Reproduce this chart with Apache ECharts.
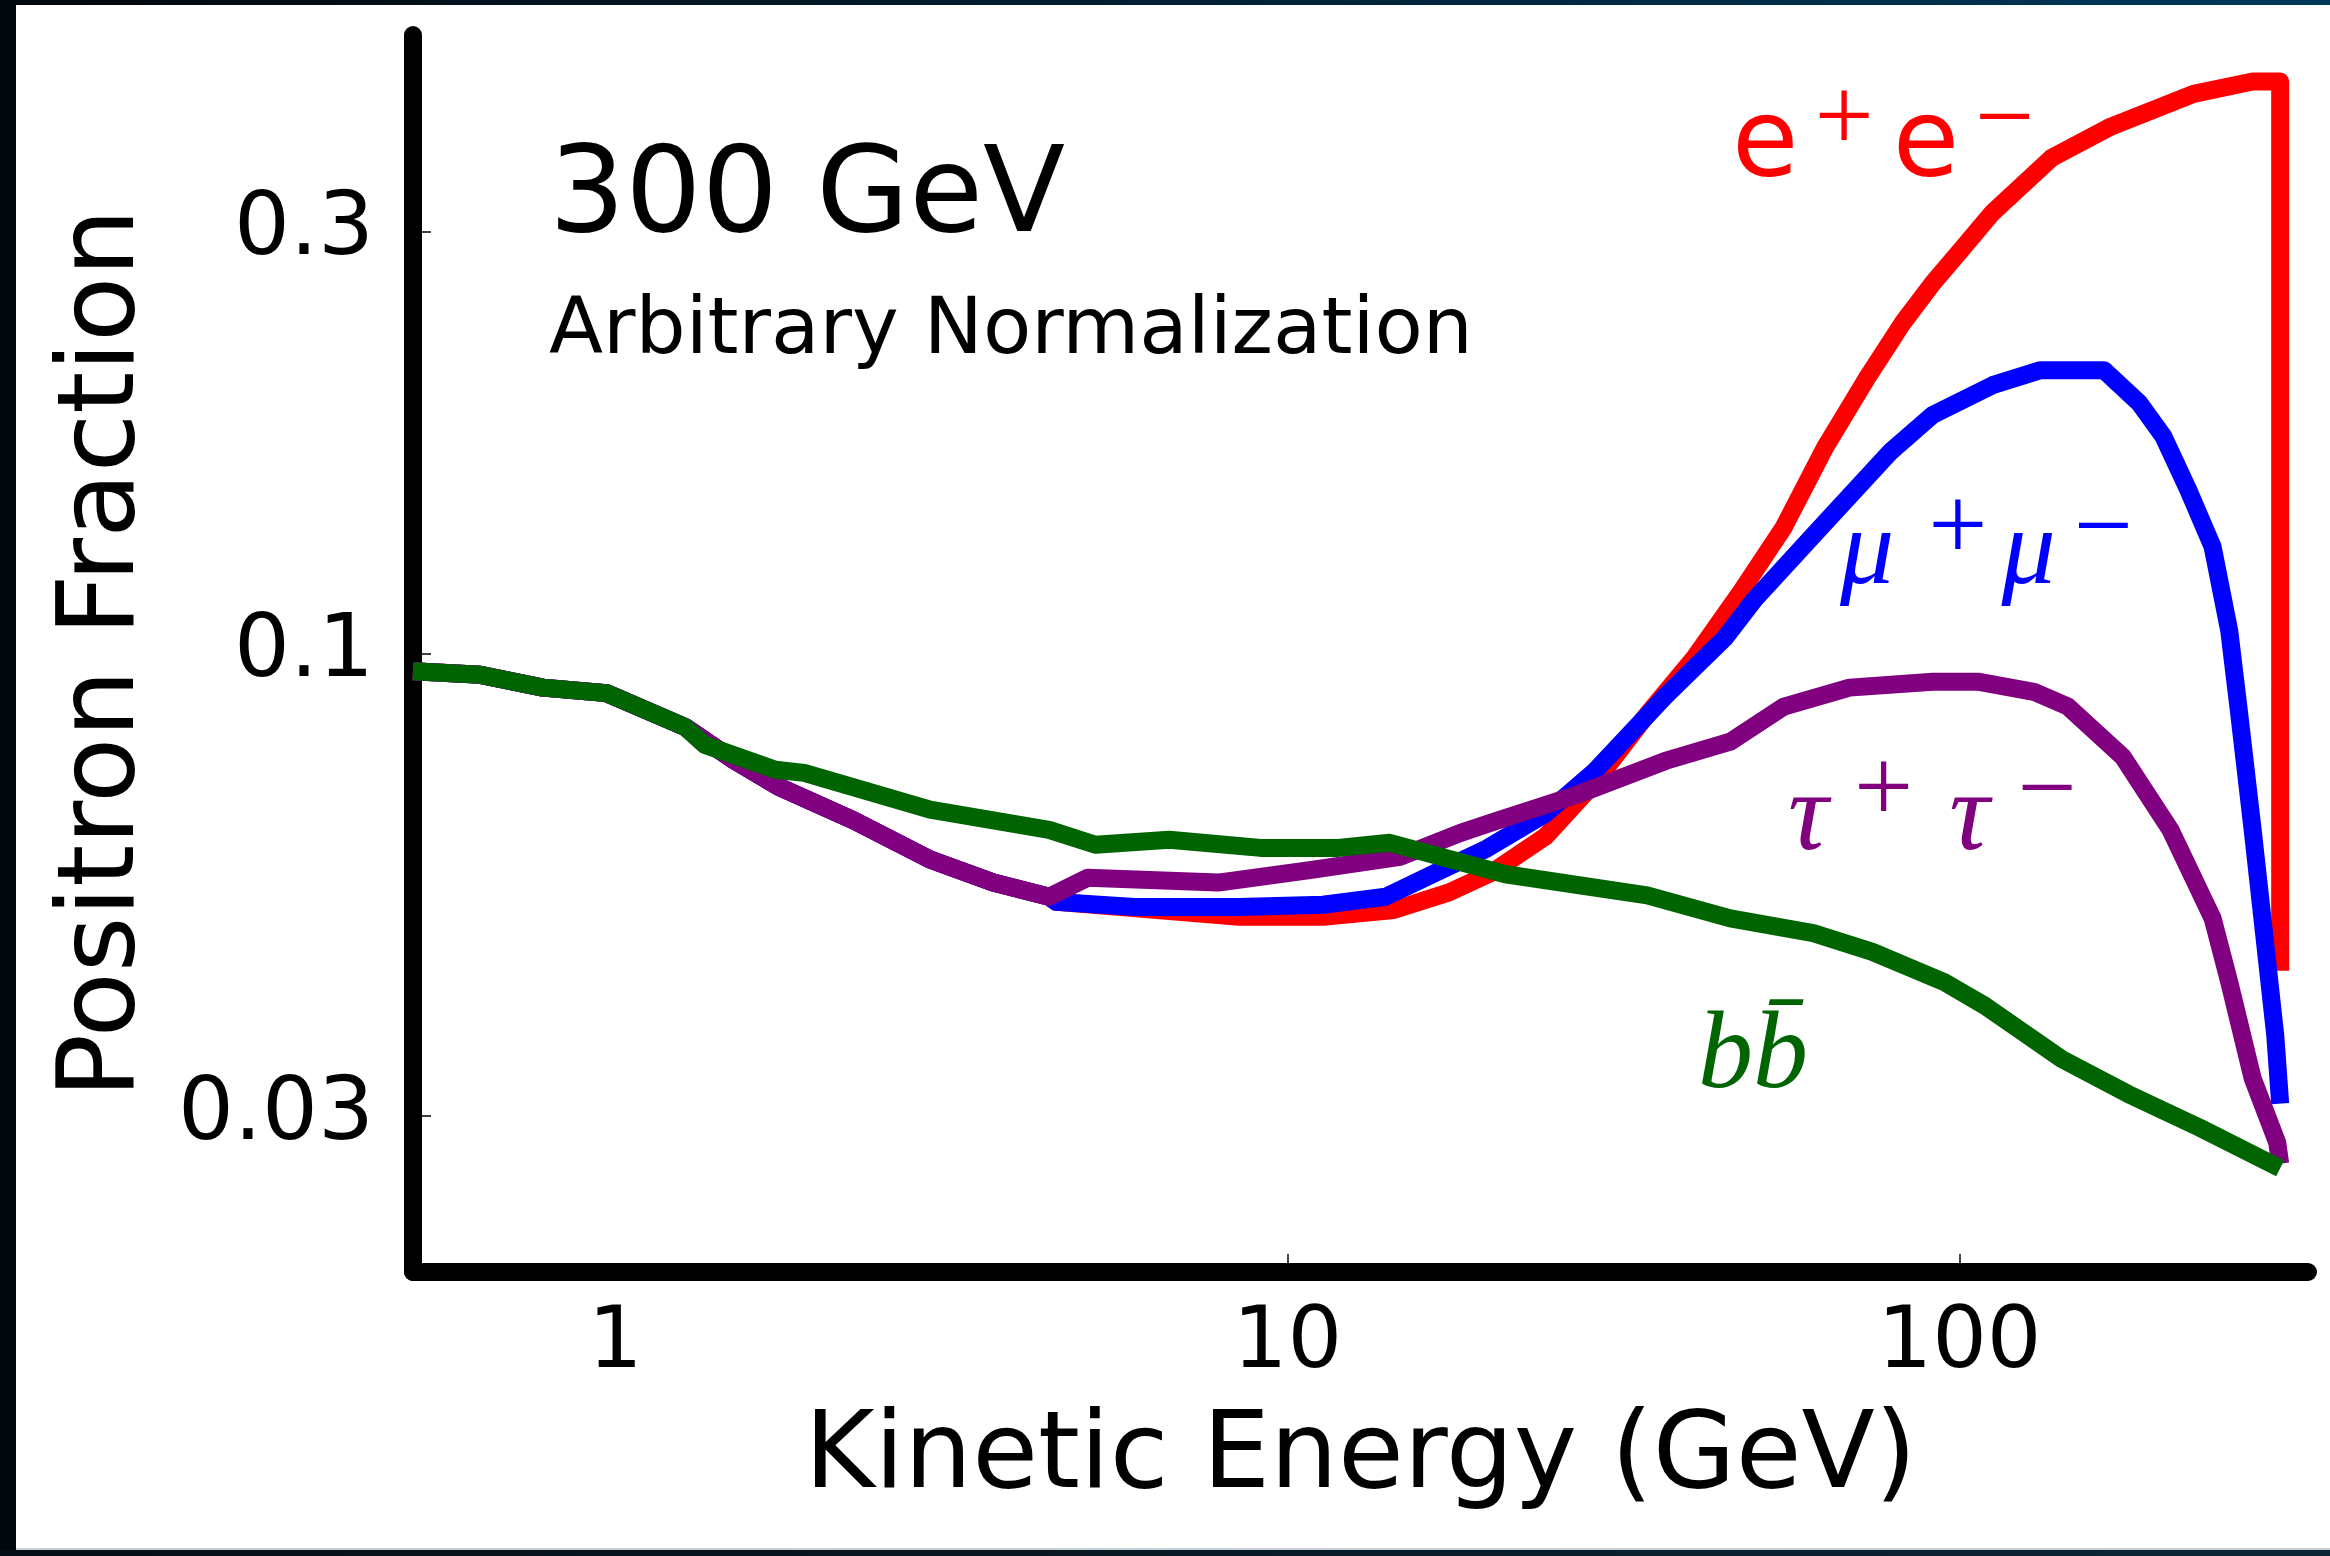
<!DOCTYPE html>
<html>
<head>
<meta charset="utf-8">
<script src="https://cdn.jsdelivr.net/npm/echarts@6/dist/echarts.min.js"></script>
<style>
html,body{margin:0;padding:0;background:#ffffff;}
#c{width:2330px;height:1556px;}
</style>
</head>
<body>
<div id="c"></div>
<script>
// ---- axes ----
const xMin = 0.5, xMax = 330;
const yMin = 0.02, yMax = 0.5;
const xLabelValues = [1, 10, 100];
const xTickValues = [10, 100];
const yTicks = [0.03, 0.1, 0.3];
const xName = 'Kinetic Energy (GeV)';
const yName = 'Positron Fraction';
const titleText = '300 GeV';
const subtitleText = 'Arbitrary Normalization';

// ---- e+e- (red) ----
const eeE = [0.5,0.63,0.78,0.97,1.27,1.5,1.75,2.26,2.94,3.65,4.42,4.53,5.83,8.48,11.3,14.4,17.4,20.1,24.2,28.6,34.3,40.4,47.5,54.8,63.1,72.9,82.2,91.2,101,112,137,168,223,273,300,300];
const eeF = [0.0955,0.0946,0.0915,0.0902,0.0826,0.0758,0.0707,0.0648,0.0585,0.0551,0.0531,0.0524,0.0516,0.0504,0.0504,0.0513,0.0537,0.0565,0.0621,0.0713,0.0853,0.0991,0.118,0.139,0.171,0.205,0.236,0.262,0.287,0.315,0.363,0.394,0.429,0.443,0.443,0.0438];

// ---- mu+mu- (blue) ----
const muE = [0.5,0.63,0.78,0.97,1.27,1.5,1.75,2.26,2.94,3.65,4.42,4.53,5.92,8.48,11.3,14.0,16.6,19.8,24.2,28.6,36.5,44.7,49.5,60.6,78.9,91.2,112,132,164,185,201,219,238,252,260,273,285,295,300];
const muF = [0.0955,0.0946,0.0915,0.0902,0.0826,0.0758,0.0707,0.0648,0.0585,0.0551,0.0531,0.0524,0.0517,0.0517,0.052,0.0531,0.0565,0.0602,0.0659,0.0735,0.0895,0.104,0.115,0.136,0.169,0.186,0.201,0.209,0.209,0.192,0.176,0.153,0.132,0.106,0.087,0.0632,0.047,0.037,0.031];

// ---- tau+tau- (purple) ----
const tauE = [0.5,0.63,0.78,0.97,1.27,1.5,1.75,2.26,2.94,3.65,4.42,5.05,7.89,10.8,14.7,18.1,20.6,26.9,36.5,45.6,54.8,68.6,91.2,107,129,145,175,206,238,252,273,297,300];
const tauF = [0.0955,0.0946,0.0915,0.0902,0.0826,0.0758,0.0707,0.0648,0.0585,0.0551,0.0531,0.0558,0.0551,0.0569,0.0589,0.0627,0.0648,0.0692,0.0756,0.0795,0.0871,0.0915,0.0929,0.0929,0.0905,0.0871,0.0764,0.0632,0.0502,0.0425,0.0331,0.028,0.0265];

// ---- b bbar (green) ----
const bbE = [0.5,0.63,0.78,0.97,1.27,1.36,1.73,1.91,2.94,4.42,5.18,6.67,9.12,11.9,14.2,21.1,34.3,45.6,60.6,74.2,95,109,142,178,228,300];
const bbF = [0.0955,0.0946,0.0915,0.0902,0.0826,0.0788,0.0739,0.0733,0.0666,0.0632,0.0608,0.0616,0.0603,0.0603,0.0611,0.0563,0.0533,0.0502,0.0483,0.046,0.0425,0.040,0.0348,0.0318,0.0291,0.0262];

function pairs(E, F) { return E.map((e, i) => [e, F[i]]); }

const chart = echarts.init(document.getElementById('c'), null, {renderer: 'canvas', width: 2330, height: 1556});

const SANS = 'DejaVu Sans';
const SERIF = 'Liberation Serif';

function lineSeries(name, E, F, color) {
  return {
    name: name, type: 'line', data: pairs(E, F),
    symbol: 'none', showSymbol: false, smooth: false,
    lineStyle: {color: color, width: 18, join: 'round', cap: 'butt'},
    emphasis: {disabled: true}, silent: true
  };
}

// superscript token: raised with bottom padding
function supStyle(color, pl, pr, raise) {
  return {fill: color, fontFamily: SERIF, fontSize: 105, lineHeight: 8, padding: [0, pr, raise, pl]};
}

const option = {
  animation: false,
  backgroundColor: '#ffffff',
  grid: {left: 413, right: 22, top: 35, bottom: 284, containLabel: false},
  xAxis: {
    type: 'log', logBase: 10, min: xMin, max: xMax,
    axisLine: {show: true, onZero: false, lineStyle: {color: '#000', width: 18}},
    axisTick: {show: true, inside: true, length: 18, lineStyle: {color: '#000', width: 1.5}, customValues: xTickValues},
    axisLabel: {show: true, customValues: xLabelValues, margin: 30, fontSize: 86, fontFamily: SANS, color: '#000',
      formatter: function (v) { return String(v); }},
    splitLine: {show: false}, minorTick: {show: false}, minorSplitLine: {show: false},
    name: xName, nameLocation: 'middle', nameGap: 134,
    nameTextStyle: {fontSize: 107, fontFamily: SANS, color: '#000'}
  },
  yAxis: {
    type: 'log', logBase: 10, min: yMin, max: yMax,
    axisLine: {show: true, onZero: false, lineStyle: {color: '#000', width: 18}},
    axisTick: {show: true, inside: true, length: 18, lineStyle: {color: '#000', width: 1.5}, customValues: yTicks},
    axisLabel: {show: true, customValues: yTicks, margin: 39, fontSize: 88, fontFamily: SANS, color: '#000',
      padding: [22, 0, 0, 0],
      formatter: function (v) { return String(v); }},
    splitLine: {show: false}, minorTick: {show: false}, minorSplitLine: {show: false},
    name: yName, nameLocation: 'middle', nameGap: 254, nameRotate: 90,
    nameTextStyle: {fontSize: 107, fontFamily: SANS, color: '#000'}
  },
  series: [
    lineSeries('e+e-', eeE, eeF, '#ff0000'),
    lineSeries('mu+mu-', muE, muF, '#0000ff'),
    lineSeries('tau+tau-', tauE, tauF, '#800080'),
    lineSeries('b bbar', bbE, bbF, '#006400')
  ],
  graphic: [
    {type: 'rect', z: 100, shape: {x: 0, y: 0, width: 16, height: 1556}, style: {fill: '#03080e'}},
    {type: 'rect', z: 100, shape: {x: 0, y: 0, width: 2330, height: 5},
      style: {fill: new echarts.graphic.LinearGradient(0, 0, 1, 0, [{offset: 0, color: '#02070c'}, {offset: 1, color: '#00385a'}])}},
    {type: 'rect', z: 100, shape: {x: 0, y: 1550, width: 2330, height: 6},
      style: {fill: new echarts.graphic.LinearGradient(0, 0, 1, 0, [{offset: 0, color: '#050d14'}, {offset: 1, color: '#0c2536'}])}},
    {type: 'rect', z: 100, shape: {x: 16, y: 1548, width: 2314, height: 2}, style: {fill: '#c9ced2'}},
    {type: 'text', z: 50, x: 549, y: 200,
      style: {text: titleText, fontSize: 120, fontFamily: SANS, fill: '#000', align: 'left', verticalAlign: 'middle'}},
    {type: 'text', z: 50, x: 549, y: 332,
      style: {text: subtitleText, fontSize: 79, fontFamily: SANS, fill: '#000', align: 'left', verticalAlign: 'middle'}},
    {type: 'text', z: 50, x: 1732, y: 147,
      style: {text: '{b|e}{p|+}{b|e}{m|\u2212}', align: 'left', verticalAlign: 'middle',
        rich: {
          b: {fill: '#ff0000', fontFamily: SANS, fontSize: 108, lineHeight: 108},
          p: supStyle('#ff0000', 16, 19, 48),
          m: supStyle('#ff0000', 16, 0, 48)
        }}},
    {type: 'text', z: 50, x: 1840, y: 555,
      style: {text: '{b|\u03bc}{p|+}{b|\u03bc}{m|\u2212}', align: 'left', verticalAlign: 'middle',
        rich: {
          b: {fill: '#0000ff', fontFamily: SERIF, fontStyle: 'italic', fontSize: 108, lineHeight: 108},
          p: supStyle('#0000ff', 34, 14, 46),
          m: supStyle('#0000ff', 18, 0, 46)
        }}},
    {type: 'text', z: 50, x: 1788, y: 820,
      style: {text: '{b|\u03c4}{p|+}{b|\u03c4}{m|\u2212}', align: 'left', verticalAlign: 'middle',
        rich: {
          b: {fill: '#800080', fontFamily: SERIF, fontStyle: 'italic', fontSize: 112, lineHeight: 108},
          p: supStyle('#800080', 26, 36, 52),
          m: supStyle('#800080', 28, 0, 52)
        }}},
    {type: 'text', z: 50, x: 1698, y: 1058,
      style: {text: 'bb\u0304', fontFamily: SERIF, fontStyle: 'italic', fontSize: 110, fill: '#006400',
        align: 'left', verticalAlign: 'middle'}}
  ]
};
chart.setOption(option);
</script>
</body>
</html>
